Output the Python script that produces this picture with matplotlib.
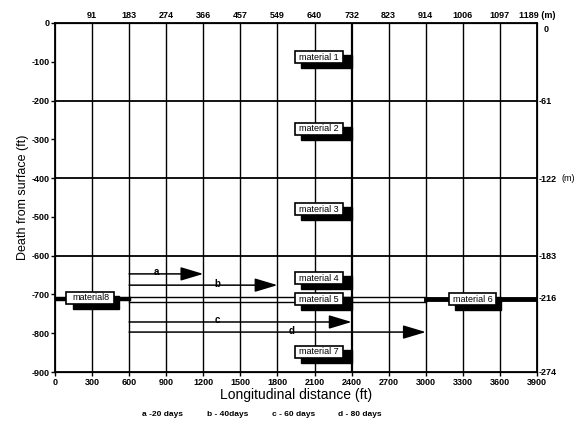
import matplotlib
matplotlib.use("Agg")
import matplotlib.pyplot as plt
from matplotlib.patches import Rectangle

plt.rcParams['font.family'] = ['Liberation Sans', 'DejaVu Sans']
plt.rcParams['axes.unicode_minus'] = False

# distance / depth scales (ft) and the metric equivalents
ft_ticks = [0, 300, 600, 900, 1200, 1500, 1800, 2100, 2400, 2700, 3000, 3300, 3600, 3900]
depth_ticks = [0, -100, -200, -300, -400, -500, -600, -700, -800, -900]
top_m = [91, 183, 274, 366, 457, 549, 640, 732, 823, 914, 1006, 1097, 1189]
right_m = [-61, -122, -183, -216, -274]
FT_PER_M = 1 / 0.3048

# layer boundaries (ft)
layer_depths = [-200, -400, -600]
seam_depth = -713

# material labels
mat_names = ['material 1', 'material 2', 'material 3', 'material 4',
             'material 5', 'material 6', 'material 7', 'material8']
mat_x = [2136, 2136, 2136, 2136, 2136, 3378, 2136, 287]
mat_y = [-88, -273, -480, -658, -712, -712, -848, -709]

# flow front arrows
arrow_ids = ['a', 'b', 'c', 'd']
arrow_start = 600
arrow_end = [1200, 1800, 2400, 3000]
arrow_depth = [-647, -676, -771, -797]
arrow_lab_x = [817, 1311, 1311, 1918]
legend_txt = ['a -20 days', 'b - 40days', 'c - 60 days', 'd - 80 days']

fig = plt.figure(figsize=(5.82, 4.24), dpi=100)
ax = fig.add_axes([0.0945, 0.1226, 0.8282, 0.8232])
ax.set_xlim(0, 3900)
ax.set_ylim(-900, 0)

for x in ft_ticks[1:-1]:
    ax.axvline(x, color='k', lw=1.6 if x == 2400 else 1.0, zorder=1)
for d in layer_depths:
    ax.axhline(d, color='k', lw=1.3, zorder=1)

# material 5 seam: thick on the ends, double line in the middle
ax.plot([0, 600], [seam_depth, seam_depth], color='k', lw=3.2, zorder=2)
ax.plot([600, 3000], [seam_depth + 6, seam_depth + 6], color='k', lw=1.0, zorder=2)
ax.plot([600, 3000], [seam_depth - 6, seam_depth - 6], color='k', lw=1.0, zorder=2)
ax.plot([3000, 3900], [seam_depth, seam_depth], color='k', lw=3.5, zorder=2)

# arrows
for lab, x1, y, lx in zip(arrow_ids, arrow_end, arrow_depth, arrow_lab_x):
    ax.annotate('', xy=(x1, y), xytext=(arrow_start, y),
                arrowprops=dict(arrowstyle='-|>,head_length=1.4,head_width=0.42',
                                mutation_scale=10, lw=1.1, color='k',
                                shrinkA=0, shrinkB=0), zorder=3)
    ax.text(lx, y + 4, lab, ha='center', va='center', fontsize=7,
            fontweight='bold', zorder=4)

# material boxes with drop shadows
bw, bh = 388, 31
for name, cx, cy in zip(mat_names, mat_x, mat_y):
    x0 = cx - bw / 2
    shadow_right = 2400 if cx == 2136 else x0 + bw + 35
    ax.add_patch(Rectangle((x0 + 50, cy - bh / 2 - 13), shadow_right - x0 - 50, bh / 2 + 18,
                           fc='k', ec='k', zorder=5))
    ax.add_patch(Rectangle((x0, cy - bh / 2), bw, bh, fc='white', ec='k', lw=1.2, zorder=6))
    ax.text(cx, cy, name, ha='center', va='center', fontsize=6.5, zorder=7)

ax.set_xticks(ft_ticks)
ax.set_xticklabels([str(v) for v in ft_ticks])
ax.set_yticks(depth_ticks)
ax.set_yticklabels([str(v) for v in depth_ticks])
ax.tick_params(axis='both', direction='out', length=3, width=1, labelsize=6.5, pad=1)
for t in ax.get_xticklabels() + ax.get_yticklabels():
    t.set_fontweight('bold')
ax.set_xlabel('Longitudinal distance (ft)', fontsize=10, labelpad=1)
ax.set_ylabel('Death from surface (ft)', fontsize=9, labelpad=2)
for s in ax.spines.values():
    s.set_linewidth(1.3)

# metric scales on top and right
axt = ax.twiny()
axt.set_xlim(ax.get_xlim())
axt.set_xticks([m * FT_PER_M for m in top_m])
axt.set_xticklabels([str(m) for m in top_m[:-1]] + [f'{top_m[-1]} (m)'])
axt.tick_params(axis='x', length=0, labelsize=6.5, pad=2)
for t in axt.get_xticklabels():
    t.set_fontweight('bold')

axr = ax.twinx()
axr.set_ylim(ax.get_ylim())
axr.set_yticks([m * FT_PER_M for m in right_m])
axr.set_yticklabels([str(m) for m in right_m])
axr.tick_params(axis='y', length=0, labelsize=6.5, pad=1)
for t in axr.get_yticklabels():
    t.set_fontweight('bold')
ax.text(1.013, 0.98, '0', transform=ax.transAxes, fontsize=6.5, fontweight='bold',
        ha='left', va='center')
ax.text(1.05, (right_m[1] * FT_PER_M + 900) / 900, '(m)', transform=ax.transAxes,
        fontsize=6.5, ha='left', va='center')

for i, s in enumerate(legend_txt):
    fig.text(0.244 + i * 0.112, 0.018, s, fontsize=6, fontweight='bold', ha='left')

fig.savefig('out.png', dpi=100)
